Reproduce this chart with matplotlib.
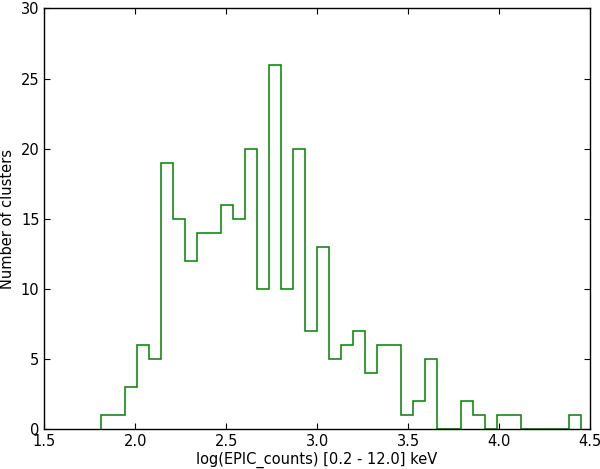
import numpy as np
import matplotlib
matplotlib.use("Agg")
import matplotlib.pyplot as plt

# counts per bin (40 equal bins)
counts = [1, 1, 3, 6, 5, 19, 15, 12, 14, 14,
          16, 15, 20, 10, 26, 10, 20, 7, 13, 5,
          6, 7, 4, 6, 6, 1, 2, 5, 0, 0,
          2, 1, 0, 1, 1, 0, 0, 0, 0, 1]
x_min = 1.81
x_max = 4.45
edges = np.linspace(x_min, x_max, len(counts) + 1)

fig = plt.figure(figsize=(6.0, 4.69), dpi=100)
ax = fig.add_axes([0.074, 0.085, 0.909, 0.897])
ax.stairs(counts, edges, color="green", linewidth=1.1)

ax.set_xlim(1.5, 4.5)
ax.set_ylim(0, 30)
ax.set_xticks([1.5, 2.0, 2.5, 3.0, 3.5, 4.0, 4.5])
ax.set_yticks([0, 5, 10, 15, 20, 25, 30])
ax.tick_params(direction="in", top=True, right=True, length=4, labelsize=10.5)
for s in ax.spines.values():
    s.set_linewidth(1.0)
ax.set_xlabel("log(EPIC_counts) [0.2 - 12.0] keV", fontsize=10.5, labelpad=2)
ax.set_ylabel("Number of clusters", fontsize=10.5, labelpad=4)

fig.savefig("out.png", dpi=100)
